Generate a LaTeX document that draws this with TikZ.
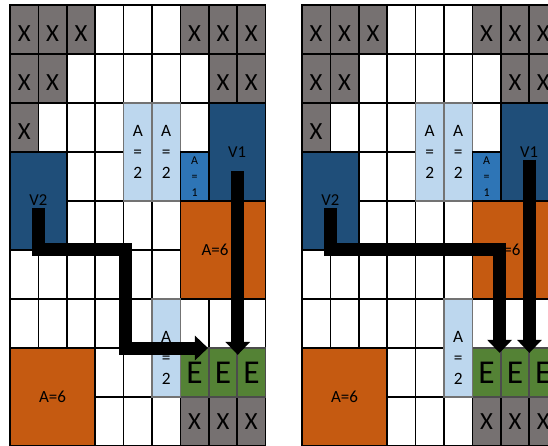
\documentclass[tikz,border=0pt]{standalone}
\usepackage{fontspec}
\setmainfont{Carlito}
\usetikzlibrary{arrows.meta}

\definecolor{blockgray}{HTML}{767171}
\definecolor{vehblue}{HTML}{1F4E79}
\definecolor{midblue}{HTML}{2E75B6}
\definecolor{paleblue}{HTML}{BDD7EE}
\definecolor{rust}{HTML}{C55A11}
\definecolor{exitgreen}{HTML}{548235}

\tikzset{
  cell/.style={draw=black, line width=1.2pt, fill=white},
  blocked/.style={cell, fill=blockgray},
  exitcell/.style={cell, draw=black!70, fill=exitgreen},
  vehicle/.style={cell, fill=vehblue},
  zone6/.style={cell, fill=rust},
  zone2/.style={cell, draw=black!55, fill=paleblue},
  zone1/.style={cell, fill=midblue},
  xmark/.style={inner sep=0pt, font=\fontsize{18.5}{18}\selectfont},
  emark/.style={inner sep=0pt, font=\fontsize{25}{25}\selectfont},
  vlabel/.style={inner sep=0pt, font=\fontsize{12.5}{13}\selectfont},
  zlabel/.style={inner sep=0pt, font=\fontsize{12.75}{13}\selectfont},
  stack/.style={inner sep=0pt, align=center, font=\fontsize{13}{15.75}\selectfont},
  smallstack/.style={inner sep=0pt, align=center, font=\fontsize{9}{12}\selectfont},
  route/.style={line width=9.75pt, line join=miter, draw=black,
    -{Triangle[width=18pt, length=9.75pt]}}
}

% one 9x9 board, cell (c,r) is the unit square below/right of (c,r)
\newcommand{\drawboard}{%
  \foreach \c in {0,...,8}
    \foreach \r in {0,...,8}
      \draw[cell] (\c,\r) rectangle ++(1,1);
  % blocked cells
  \foreach \c/\r in {0/0,1/0,2/0,6/0,7/0,8/0,0/1,1/1,7/1,8/1,0/2} {
    \draw[blocked] (\c,\r) rectangle ++(1,1);
    \node[xmark] (x\c\r) at (\c+0.5,\r+0.58) {X};
  }
  % exits and the blocked row below them
  \foreach \c in {6,7,8} {
    \draw[blocked] (\c,8) rectangle ++(1,1);
    \node[xmark] (x\c8) at (\c+0.5,8.5) {X};
    \draw[exitcell] (\c,7) rectangle ++(1,1);
    \node[emark] (e\c) at (\c+0.5,7.5) {E};
  }
  % vehicles
  \draw[vehicle] (7,2) rectangle (9,4);
  \node[vlabel] (v1) at (8,3) {V1};
  \draw[vehicle] (0,3) rectangle (2,5);
  \node[vlabel] (v2) at (1,3.98) {V2};
  % areas
  \draw[zone6] (6,4) rectangle (9,6);
  \node[zlabel] (a6top) at (7.22,5) {A=6};
  \draw[zone6] (0,7) rectangle (3,9);
  \node[zlabel] (a6bot) at (1.5,8) {A=6};
  \draw[zone2] (4,2) rectangle (5,4);
  \node[stack] (a2left) at (4.5,3) {A\\=\\2};
  \draw[zone2] (5,2) rectangle (6,4);
  \node[stack] (a2right) at (5.5,3) {A\\=\\2};
  \draw[zone2] (5,6) rectangle (6,8);
  \node[stack] (a2low) at (5.5,7.2) {A\\=\\2};
  \draw[zone1] (6,3) rectangle (7,4);
  \node[smallstack] (a1) at (6.5,3.5) {A\\=\\1};
}

\begin{document}
\begin{tikzpicture}[x=21.3pt, y=-36.75pt]
  \useasboundingbox (-0.352,-0.102) rectangle (18.944,8.98);
  \clip (-0.352,-0.102) rectangle (18.944,8.98);

  % Left board
  \begin{scope}[name prefix=L-]
    \drawboard
    \coordinate (v2s) at (1,4.14);
    \coordinate (v2m) at (4.08,4.98);
    \coordinate (v2e) at (6.97,7.0);
    \coordinate (v1s) at (8.02,3.39);
    \coordinate (v1e) at (8.02,7.14);
    \draw[route] (v2s) |- (v2m) |- (v2e);
    \draw[route] (v1s) -- (v1e);
  \end{scope}

  % Right board
  \begin{scope}[xshift=10.28*21.3pt, name prefix=R-]
    \drawboard
    \coordinate (v2s) at (1,4.14);
    \coordinate (v2m) at (6.96,4.98);
    \coordinate (v2e) at (6.96,7.10);
    \coordinate (v1s) at (8.01,3.16);
    \coordinate (v1e) at (8.01,7.10);
    \draw[route] (v2s) |- (v2m) -- (v2e);
    \draw[route] (v1s) -- (v1e);
  \end{scope}
\end{tikzpicture}
\end{document}
